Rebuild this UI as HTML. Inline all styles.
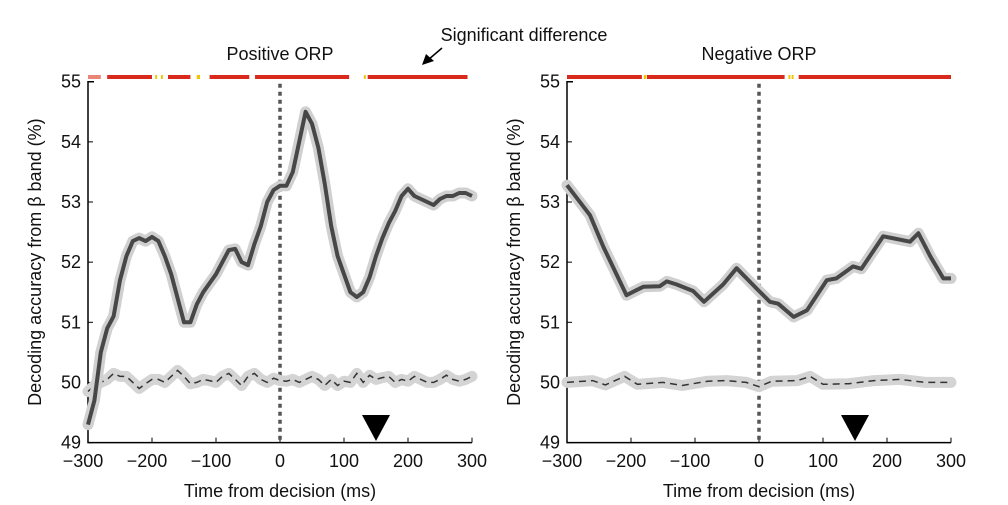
<!DOCTYPE html>
<html><head><meta charset="utf-8"><style>
body{margin:0;background:#fff;}
svg{display:block;font-family:"Liberation Sans",sans-serif;}
</style></head><body>
<svg id="chart" width="1008" height="505" viewBox="0 0 1008 505"></svg>
<script>
const timeTicks=[-300,-200,-100,0,100,200,300];
const yTicks=[49,50,51,52,53,54,55];
const posT=[-300,-290,-280,-270,-260,-250,-240,-230,-220,-210,-200,-190,-180,-170,-160,-150,-140,-130,-120,-110,-100,-90,-80,-70,-60,-50,-40,-30,-20,-10,0,10,20,30,40,50,60,70,80,90,100,110,120,130,140,150,160,170,180,190,200,210,220,230,240,250,260,270,280,290,300];
const posSolid=[49.3,49.7,50.5,50.9,51.1,51.7,52.1,52.35,52.4,52.35,52.42,52.35,52.1,51.8,51.4,51.0,51.0,51.3,51.5,51.65,51.8,52.0,52.2,52.22,52.0,51.95,52.3,52.6,53.0,53.2,53.27,53.27,53.5,54.0,54.5,54.3,53.9,53.3,52.6,52.1,51.8,51.5,51.42,51.5,51.75,52.1,52.4,52.65,52.85,53.1,53.22,53.1,53.05,53.0,52.95,53.05,53.1,53.1,53.15,53.15,53.1];
const posNull=[49.85,49.95,50.0,50.05,50.15,50.1,50.1,50.0,49.9,49.98,50.05,50.05,50.0,50.1,50.2,50.1,49.98,50.0,50.05,50.03,50.0,50.1,50.15,50.05,49.95,50.1,50.15,50.05,50.0,50.07,50.03,50.02,50.05,50.0,50.05,50.1,50.05,49.95,50.05,49.95,50.02,50.0,50.15,50.0,50.12,50.05,50.08,50.1,50.0,50.05,50.02,50.1,50.05,50.0,50.0,50.05,50.12,50.05,50.02,50.05,50.1];
const negT=[-300,-264,-243,-207,-181,-155,-144,-129,-103,-86,-56,-35,0,17,30,54,75,106,121,147,160,194,236,249,268,288,300];
const negSolid=[53.28,52.78,52.25,51.45,51.59,51.6,51.68,51.63,51.52,51.34,51.63,51.9,51.52,51.34,51.31,51.09,51.2,51.7,51.73,51.93,51.89,52.43,52.34,52.48,52.09,51.73,51.73];
const negNullT=[-300,-260,-240,-210,-190,-150,-120,-80,-50,-20,0,20,60,80,100,140,180,220,260,300];
const negNull=[50.0,50.03,49.96,50.1,49.97,50.0,49.95,50.02,50.03,50.0,49.93,50.02,50.03,50.1,49.97,49.98,50.03,50.05,50.0,50.0];
const posSig=[[-300,-280,'#e8867a'],[-270,-200,'#d9291c'],[-195,-192,'#f5c400'],[-186,-183,'#f5c400'],[-175,-140,'#d9291c'],[-130,-125,'#f5c400'],[-110,-48,'#d9291c'],[-39,108,'#d9291c'],[131,134,'#f5c400'],[137,293,'#d9291c']];
const negSig=[[-300,-183,'#d9291c'],[-180,-176,'#f5c400'],[-175,40,'#d9291c'],[46,49,'#f5c400'],[51,54,'#f5c400'],[62,300,'#d9291c']];

const NS='http://www.w3.org/2000/svg';
const svg=document.getElementById('chart');
function mk(tag,attrs,parent){const e=document.createElementNS(NS,tag);for(const k in attrs)e.setAttribute(k,attrs[k]);(parent||svg).appendChild(e);return e;}
const yS=v=>81.7+(55-v)*60.15;

function panel(x0,title,ts,solid,nts,nul,sig,name){
  const xS=t=>x0+(t+300)*0.64;
  const g=mk('g',{});
  
  
  sig.forEach(s=>{const r=mk('rect',{x:xS(s[0]),y:75,width:xS(s[1])-xS(s[0]),height:4,fill:s[2]},g);
    
    });
  const ax=mk('path',{d:`M${x0+6},${yS(55)}H${x0}V${yS(49)}H${xS(300)}`,stroke:'#000','stroke-width':1.5,fill:'none'},g);
  
  
  yTicks.forEach(v=>{mk('line',{x1:x0,x2:x0+5,y1:yS(v),y2:yS(v),stroke:'#000','stroke-width':1},g);
    const t=mk('text',{x:x0-7,y:yS(v)+6,'text-anchor':'end','font-size':18,fill:'#111'},g);t.textContent=v;
    
    });
  timeTicks.forEach(v=>{mk('line',{x1:xS(v),x2:xS(v),y1:yS(49),y2:yS(49)-5,stroke:'#000','stroke-width':1},g);
    const t=mk('text',{x:xS(v)-(v<0?5:0),y:467,'text-anchor':'middle','font-size':18,fill:'#111'},g);t.textContent=(v<0?'\u2212'+(-v):v);
    
    });
  const z=mk('line',{x1:xS(0),x2:xS(0),y1:yS(55)+2,y2:yS(49),stroke:'#555','stroke-width':3.5,'stroke-dasharray':'4,4'},g);
  
  
  const pts=(T,V)=>T.map((t,i)=>xS(t).toFixed(1)+','+yS(V[i]).toFixed(1)).join(' ');
  mk('polyline',{points:pts(nts,nul),fill:'none',stroke:'#d4d4d4','stroke-width':11,'stroke-linejoin':'round','stroke-linecap':'round'},g);
  const dn=mk('polyline',{points:pts(nts,nul),fill:'none',stroke:'#333','stroke-width':1.5,'stroke-dasharray':'7,5'},g);
  
  
  mk('polyline',{points:pts(ts,solid),fill:'none',stroke:'#d0d0d0','stroke-width':11,'stroke-linejoin':'round','stroke-linecap':'round'},g);
  const sl=mk('polyline',{points:pts(ts,solid),fill:'none',stroke:'#474747','stroke-width':4,'stroke-linejoin':'round'},g);
  
  
  const tri=mk('polygon',{points:`${xS(150)-14},415 ${xS(150)+14},415 ${xS(150)},441`,fill:'#000'},g);
  
  
  const tt=mk('text',{x:xS(0),y:60,'text-anchor':'middle','font-size':18,fill:'#111'},g);tt.textContent=title;
  
  
  const xl=mk('text',{x:xS(0),y:497,'text-anchor':'middle','font-size':18,fill:'#111'},g);xl.textContent='Time from decision (ms)';
  
  
  const yl=mk('text',{x:0,y:0,'text-anchor':'middle','font-size':18,fill:'#111',transform:`translate(${x0-47},${yS(52)}) rotate(-90)`},g);yl.textContent='Decoding accuracy from \u03b2 band (%)';
  
  
}
panel(88,'Positive ORP',posT,posSolid,posT,posNull,posSig,'positive-orp-panel');
panel(567,'Negative ORP',negT,negSolid,negNullT,negNull,negSig,'negative-orp-panel');
const st=mk('text',{x:524,y:41,'text-anchor':'middle','font-size':18,fill:'#111'});st.textContent='Significant difference';


const ar=mk('line',{x1:442,y1:48,x2:428,y2:60,stroke:'#000','stroke-width':1.5});


const ah=mk('polygon',{points:'422,65 426,54 434,61',fill:'#000'});


</script>
</body></html>
